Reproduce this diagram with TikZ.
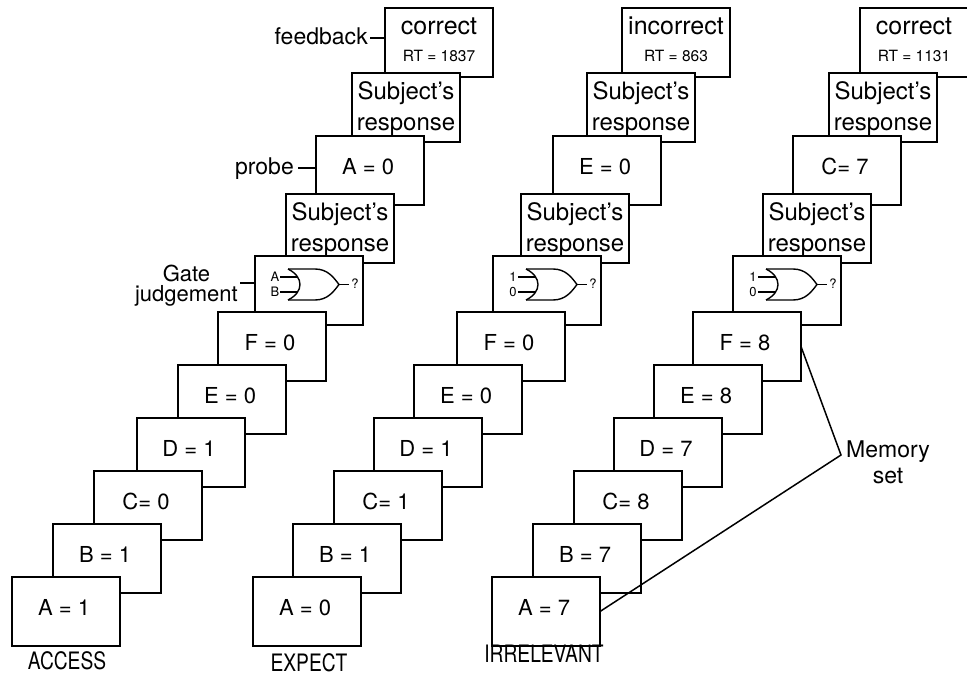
\documentclass[tikz,border=0pt]{standalone}
\usepackage{fontspec}
\setmainfont{TeX Gyre Heros}
\newcommand\gatesym[3]{%
  \begin{scope}[shift={(#1.north west)}, line width=1.4pt]
    \draw (33,13) .. controls (49,21) and (49,36) .. (33,44);
    \draw (33,13) -- (60,13) .. controls (73,13) and (79,22) .. (84,28.5)
          .. controls (79,35) and (73,44) .. (60,44) -- (33,44);
    \draw (25,21) -- (41.8,21);
    \draw (25,36) -- (41.8,36);
    \draw (84,28.5) -- (94,28.5);
    \node[gtxt] (#1-q) at (100,28) {?};
    \node[gtxt] (#1-a) at (20,21) {#2};
    \node[gtxt] (#1-b) at (20,36) {#3};
  \end{scope}}
\newcommand\valbox[4]{\node[stim] (#1) at (#2,#3) {};
  \node[vtxt] (#1-t) at ({#2+52},{#3+38.5}) {#4};}
\newcommand\srbox[3]{\node[stim] (#1) at (#2,#3) {};
  \node[srtxt] (#1-t) at ({#2+54},{#3+57.5}) {Subject's\\response};}
\newcommand\fbbox[5]{\node[stim] (#1) at (#2,#3) {};
  \node[fbtxt] (#1-t) at ({#2+54},{#3+27}) {#4};
  \node[rttxt] (#1-r) at ({#2+54},{#3+53.5}) {#5};}
\newcommand\gbox[5]{\node[stim] (#1) at (#2,#3) {};
  \gatesym{#1}{#4}{#5}}
\begin{document}
\begin{tikzpicture}[x=1pt,y=-1pt,
  stim/.style={draw, fill=white, line width=1.6pt, minimum width=108pt,
    minimum height=69pt, inner sep=0pt, outer sep=0pt, anchor=north west},
  vtxt/.style={anchor=base, inner sep=0pt, font=\fontsize{22}{26}\selectfont},
  srtxt/.style={anchor=base, inner sep=0pt, align=center, font=\fontsize{24}{31}\selectfont},
  fbtxt/.style={anchor=base, inner sep=0pt, font=\fontsize{25}{30}\selectfont},
  rttxt/.style={anchor=base, inner sep=0pt, font=\fontsize{15.5}{18}\selectfont},
  gtxt/.style={inner sep=0pt, font=\fontsize{13}{14}\selectfont},
  lbl/.style={anchor=east, inner xsep=2pt, inner ysep=0pt, text height=13pt,
    text depth=0pt, font=\fontsize{23}{27}\selectfont},
  glbl/.style={anchor=east, inner xsep=2pt, inner ysep=0pt, align=center,
    font=\fontsize{22}{20.5}\selectfont},
  memtxt/.style={anchor=base, inner sep=0pt, align=center, font=\fontsize{23}{26}\selectfont},
  cond/.style={anchor=base, inner sep=0pt, xscale=0.8, font=\fontsize{24}{28}\selectfont},
  conn/.style={line width=1.5pt}
]
\useasboundingbox (0,0) rectangle (967,677);
\clip (0,0) rectangle (967,677);

% ---------- Column 1: ACCESS ----------
\fbbox{c1fb}{385}{8}{correct}{RT = 1837}
\srbox{c1s1}{352}{73}
\valbox{c1p}{316}{136}{A = 0}
\srbox{c1s2}{286}{194}
\gbox{c1g}{255}{256}{A}{B}
\valbox{c1f}{218}{312}{F = 0}
\valbox{c1e}{178}{365}{E = 0}
\valbox{c1d}{137}{418}{D = 1}
\valbox{c1c}{94}{471}{C= 0}
\valbox{c1b}{53}{524}{B = 1}
\valbox{c1a}{12}{577}{A = 1}

% ---------- Column 2: EXPECT ----------
\fbbox{c2fb}{622}{8}{incorrect}{RT = 863}
\srbox{c2s1}{587}{73}
\valbox{c2p}{553}{136}{E = 0}
\srbox{c2s2}{521}{194}
\gbox{c2g}{493}{256}{1}{0}
\valbox{c2f}{457}{312}{F = 0}
\valbox{c2e}{414}{365}{E = 0}
\valbox{c2d}{374}{418}{D = 1}
\valbox{c2c}{334}{471}{C= 1}
\valbox{c2b}{293}{524}{B = 1}
\valbox{c2a}{253}{577}{A = 0}

% ---------- Column 3: IRRELEVANT ----------
\fbbox{c3fb}{860}{8}{correct}{RT = 1131}
\srbox{c3s1}{829}{73}
\valbox{c3p}{793}{136}{C= 7}
\srbox{c3s2}{763}{194}
\gbox{c3g}{733}{256}{1}{0}
\valbox{c3f}{693}{312}{F = 8}
\valbox{c3e}{654}{365}{E = 8}
\valbox{c3d}{614}{418}{D = 7}
\valbox{c3c}{574}{471}{C= 8}
\valbox{c3b}{533}{524}{B = 7}
\valbox{c3a}{492}{577}{A = 7}

% ---------- side labels ----------
\node[lbl] (fbl) at (370,38) {feedback};
\draw[conn] (fbl.east) -- (fbl.east -| c1fb.west);
\node[lbl, inner xsep=4pt] (prl) at (298,168) {probe};
\draw[conn] (prl.east) -- (prl.east -| c1p.west);
\node[glbl] (gjl) at (240,285.5) {Gate\\judgement};
\draw[conn] ([yshift=2.5pt]gjl.east) -- ([yshift=2.5pt]gjl.east -| c1g.west);

% ---------- memory set ----------
\node[memtxt] (mem) at (888,483) {Memory\\set};
\coordinate (mv) at (841,455);
\draw[conn] (c3f.east) -- (mv) -- (c3a.east);

% ---------- condition labels ----------
\node[cond] (lab1) at (67,669) {ACCESS};
\node[cond] (lab2) at (309,671) {EXPECT};
\node[cond] (lab3) at (544,662) {IRRELEVANT};
\end{tikzpicture}
\end{document}
